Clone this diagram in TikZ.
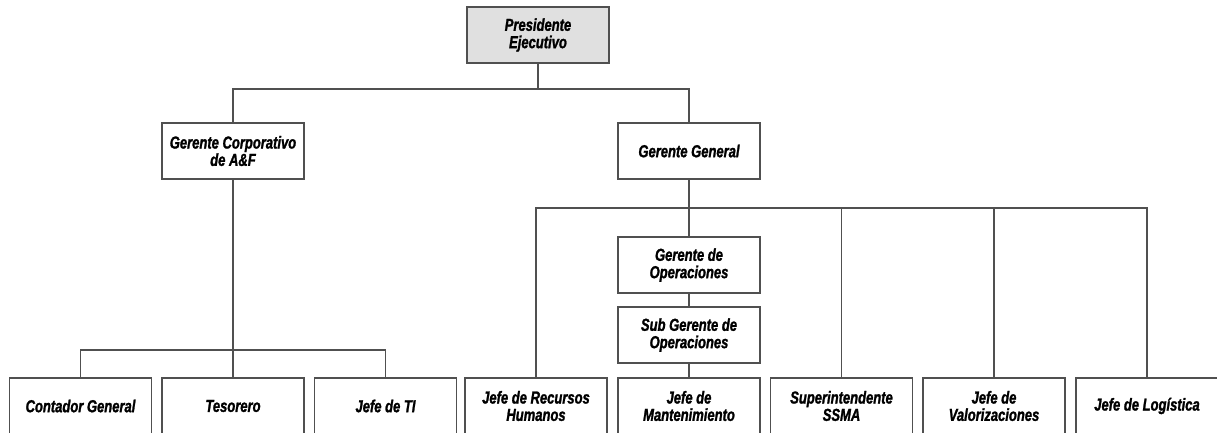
\documentclass[tikz,border=0pt]{standalone}
\usepackage{fontspec}
\setmainfont{Liberation Sans}[FakeStretch=0.75,BoldItalicFeatures={FakeBold=1.4}]
\definecolor{boxline}{HTML}{505050}
\definecolor{presfill}{HTML}{E0E0E0}
\begin{document}
\begin{tikzpicture}[x=0.75pt,y=-0.75pt,
  orgbox/.style={draw=boxline,line width=0.9pt,fill=white,minimum width=106.5pt,minimum height=42pt,
    inner sep=1pt,align=center,font=\fontsize{13}{13}\selectfont\bfseries\itshape},
  link/.style={draw=boxline,line width=0.9pt}]
\useasboundingbox (0,0) rectangle (1217,432);
\node[orgbox,fill=presfill] (pres) at (538,35) {Presidente\\Ejecutivo};
\node[orgbox] (gca) at (233,151) {Gerente Corporativo\\de A\&F};
\node[orgbox] (gg) at (689,151) {Gerente General};
\node[orgbox] (gop) at (689,265) {Gerente de\\Operaciones};
\node[orgbox] (sgop) at (689,335) {Sub Gerente de\\Operaciones};
\node[orgbox] (cont) at (80.5,406) {Contador General};
\node[orgbox] (teso) at (233,406) {Tesorero};
\node[orgbox] (ti) at (385.5,406) {Jefe de TI};
\node[orgbox] (rh) at (536,406) {Jefe de Recursos\\Humanos};
\node[orgbox] (mant) at (689,406) {Jefe de\\Mantenimiento};
\node[orgbox] (ssma) at (841.5,406) {Superintendente\\SSMA};
\node[orgbox] (val) at (994,406) {Jefe de\\Valorizaciones};
\node[orgbox] (log) at (1147,406) {Jefe de Logística};
\coordinate (j1) at (538,89);
\coordinate (j2) at (233,350);
\coordinate (j3) at (689,208);
\path[link] (pres.south) -- (j1);
\path[link] (gca.north) |- (j1) -| (gg.north);
\path[link] (gca.south) -- (j2);
\path[link] (cont.north) |- (j2) -| (ti.north);
\path[link] (j2) -- (teso.north);
\path[link] (gg.south) -- (j3);
\path[link] (rh.north) |- (j3) -| (log.north);
\path[link] (j3) -- (gop.north);
\path[link] (gop.south) -- (sgop.north);
\path[link] (sgop.south) -- (mant.north);
\path[link] (ssma.north) -- (ssma.north |- j3);
\path[link] (val.north) -- (val.north |- j3);
\end{tikzpicture}
\end{document}
